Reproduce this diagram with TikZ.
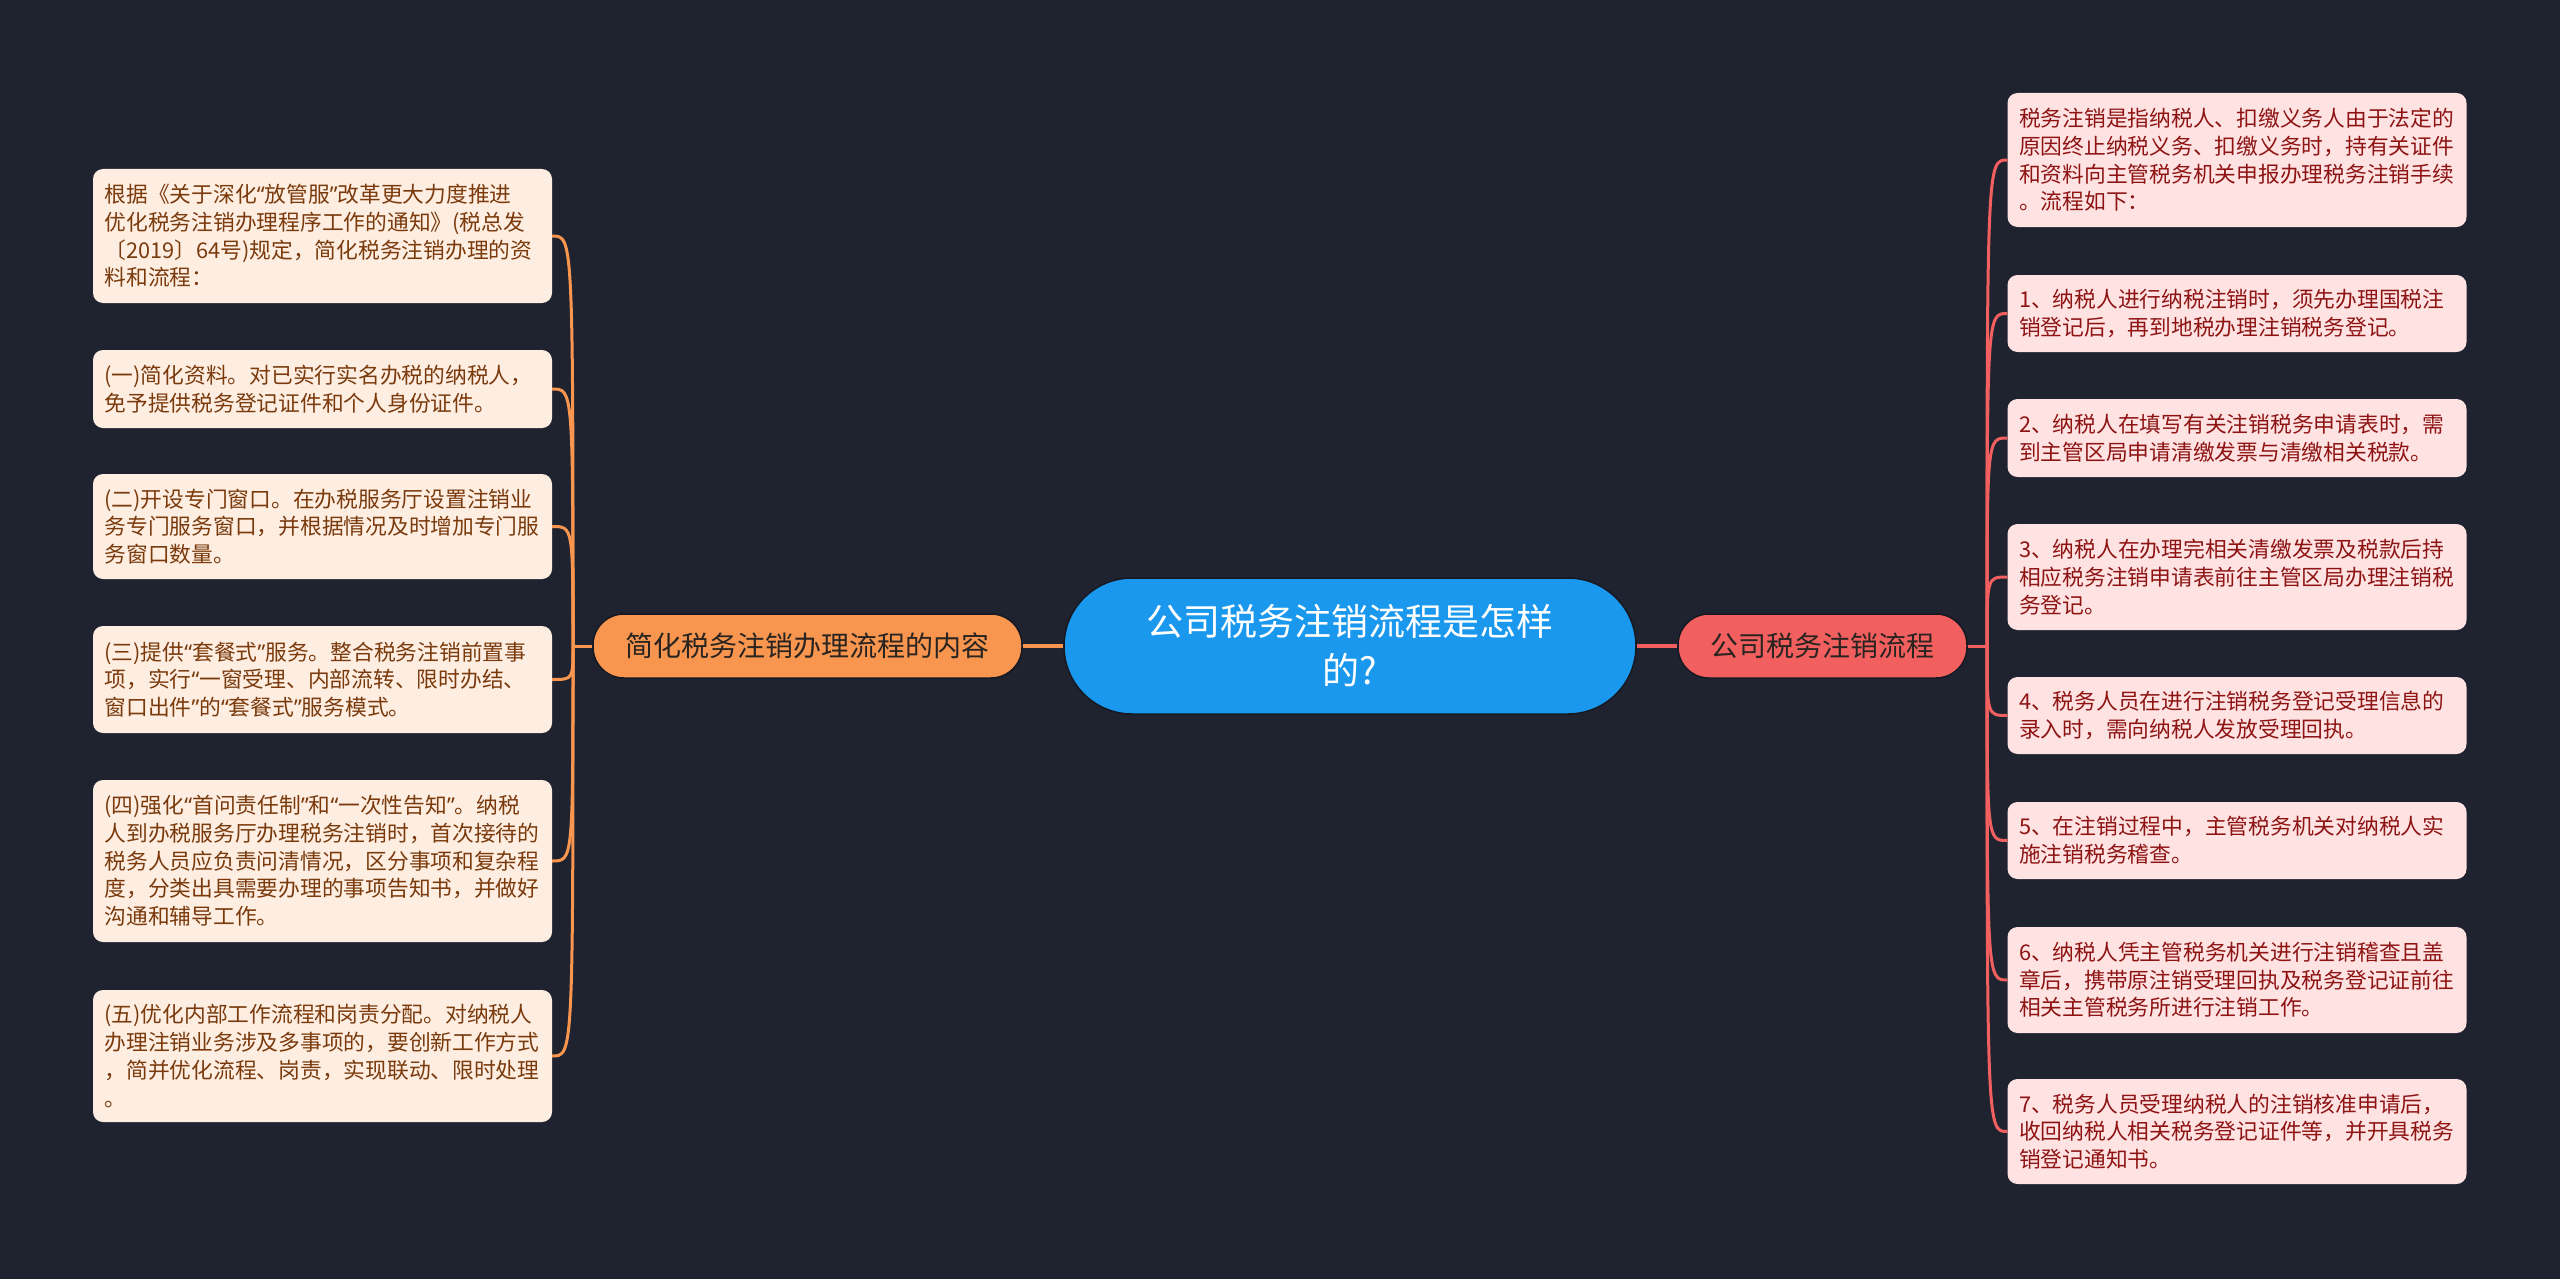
\documentclass[tikz,border=0pt]{standalone}
\usepackage{fontspec}
\setmainfont{Noto Sans CJK SC}
\newfontfamily\qf{Noto Sans}
\newcommand{\qlq}{{\qf “}}
\newcommand{\qrq}{{\qf ”}}
\definecolor{bg}{HTML}{1F2330}
\definecolor{blueC}{HTML}{1A98EE}
\definecolor{orangeM}{HTML}{F8964F}
\definecolor{redM}{HTML}{F25F5F}
\definecolor{leafLfill}{HTML}{FEEEE2}
\definecolor{leafLtext}{HTML}{7A3A0C}
\definecolor{leafRfill}{HTML}{FFE3E3}
\definecolor{leafRtext}{HTML}{8E1414}
\definecolor{mainText}{HTML}{2A2420}
\tikzset{
  leafbox/.style={rounded corners=10pt, align=left, text width=436pt,
    inner xsep=11.5pt, inner ysep=0pt,
    font=\fontsize{21.75pt}{27.7pt}\selectfont},
  leafL/.style={leafbox, fill=leafLfill, text=leafLtext},
  leafR/.style={leafbox, fill=leafRfill, text=leafRtext},
  mainbox/.style={rounded corners=31pt, minimum height=64pt, inner sep=0pt,
    draw=bg!70!black, line width=1.5pt, text=mainText,
    font=\fontsize{28pt}{34pt}\selectfont},
  linkL/.style={draw=orangeM, line width=3pt},
  linkR/.style={draw=redM, line width=3pt}
}
\begin{document}
\begin{tikzpicture}[x=1pt,y=-1pt]
\path[use as bounding box, fill=bg] (0,0) rectangle (2560,1279);

% center
\node[fill=blueC, rounded corners=68pt, minimum width=572pt, minimum height=136pt,
  inner sep=0pt, text=white, align=center, draw=bg!70!black, line width=1.5pt,
  font=\fontsize{37pt}{49pt}\selectfont] (c) at (1350,646) {公司税务注销流程是怎样\\的?};

% main branches
\node[mainbox, fill=orangeM, minimum width=429pt] (lm) at (807.5,646) {简化税务注销办理流程的内容};
\node[mainbox, fill=redM, minimum width=289pt] (rm) at (1822.5,646) {公司税务注销流程};

% left leaves
\node[leafL, minimum height=134pt] (l1) at (322.5,236) {根据《关于深化\qlq 放管服\qrq 改革更大力度推进\\优化税务注销办理程序工作的通知》(税总发\\〔2019〕64号)规定，简化税务注销办理的资\\料和流程：};
\node[leafL, minimum height=78pt] (l2) at (322.5,389) {(一)简化资料。对已实行实名办税的纳税人，\\免予提供税务登记证件和个人身份证件。};
\node[leafL, minimum height=105pt] (l3) at (322.5,526.5) {(二)开设专门窗口。在办税服务厅设置注销业\\务专门服务窗口，并根据情况及时增加专门服\\务窗口数量。};
\node[leafL, minimum height=107pt] (l4) at (322.5,679.5) {(三)提供\qlq 套餐式\qrq 服务。整合税务注销前置事\\项，实行\qlq 一窗受理、内部流转、限时办结、\\窗口出件\qrq 的\qlq 套餐式\qrq 服务模式。};
\node[leafL, minimum height=162pt] (l5) at (322.5,861) {(四)强化\qlq 首问责任制\qrq 和\qlq 一次性告知\qrq 。纳税\\人到办税服务厅办理税务注销时，首次接待的\\税务人员应负责问清情况，区分事项和复杂程\\度，分类出具需要办理的事项告知书，并做好\\沟通和辅导工作。};
\node[leafL, minimum height=132pt] (l6) at (322.5,1056) {(五)优化内部工作流程和岗责分配。对纳税人\\办理注销业务涉及多事项的，要创新工作方式\\，简并优化流程、岗责，实现联动、限时处理\\。};

% right leaves
\node[leafR, minimum height=134pt] (r1) at (2237,160) {税务注销是指纳税人、扣缴义务人由于法定的\\原因终止纳税义务、扣缴义务时，持有关证件\\和资料向主管税务机关申报办理税务注销手续\\。流程如下：};
\node[leafR, minimum height=77pt] (r2) at (2237,313.5) {1、纳税人进行纳税注销时，须先办理国税注\\销登记后，再到地税办理注销税务登记。};
\node[leafR, minimum height=78pt] (r3) at (2237,438) {2、纳税人在填写有关注销税务申请表时，需\\到主管区局申请清缴发票与清缴相关税款。};
\node[leafR, minimum height=106pt] (r4) at (2237,577) {3、纳税人在办理完相关清缴发票及税款后持\\相应税务注销申请表前往主管区局办理注销税\\务登记。};
\node[leafR, minimum height=77pt] (r5) at (2237,715.5) {4、税务人员在进行注销税务登记受理信息的\\录入时，需向纳税人发放受理回执。};
\node[leafR, minimum height=77pt] (r6) at (2237,840.5) {5、在注销过程中，主管税务机关对纳税人实\\施注销税务稽查。};
\node[leafR, minimum height=106pt] (r7) at (2237,980) {6、纳税人凭主管税务机关进行注销稽查且盖\\章后，携带原注销受理回执及税务登记证前往\\相关主管税务所进行注销工作。};
\node[leafR, minimum height=105pt] (r8) at (2237,1131.5) {7、税务人员受理纳税人的注销核准申请后，\\收回纳税人相关税务登记证件等，并开具税务\\销登记通知书。};

% junctions
\coordinate (lj) at (573,646);
\coordinate (rj) at (1987,646);

% links
\draw[linkL, line width=4pt] (c.west) -- (lm.east);
\draw[linkR, line width=4pt] (c.east) -- (rm.west);
\draw[linkL] (lm.west) -- (lj);
\draw[linkR] (rm.east) -- (rj);
\foreach \n in {l1,l2,l3,l4,l5,l6}{
  \draw[linkL] (lj) .. controls (lj |- \n.east) .. (\n.east);
}
\foreach \n in {r1,r2,r3,r4,r5,r6,r7,r8}{
  \draw[linkR] (rj) .. controls (rj |- \n.west) .. (\n.west);
}
\end{tikzpicture}
\end{document}
